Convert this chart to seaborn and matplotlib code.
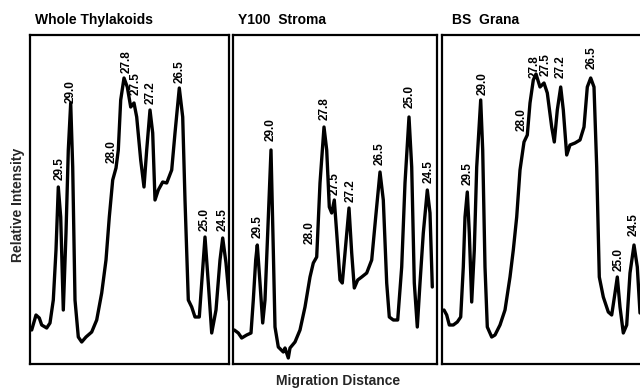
import matplotlib
matplotlib.use("Agg")
import matplotlib.pyplot as plt
import seaborn as sns
import pandas as pd

# ---- data (migration distance vs relative intensity) ----
panel_titles = ["Whole Thylakoids", "Y100  Stroma", "BS  Grana"]
peak_labels = ["29.5", "29.0", "28.0", "27.8", "27.5", "27.2", "26.5", "25.0", "24.5"]

whole_x = [1.7, 6, 9.3, 11.7, 16.7, 20, 23.3, 26, 28.3, 30.7, 33.3, 36, 38.3, 40.7, 42.7, 45,
           48.3, 51.7, 56, 61.7, 66.7, 71.7, 76, 79.3, 82.7, 86, 88.3, 90.7, 94, 97.3, 100.7,
           104, 106.7, 110.7, 114, 116.7, 120, 122.7, 125, 128.3, 132.7, 136.7, 141.7, 145,
           149.3, 152.7, 155, 158.3, 161.7, 165, 169.3, 171.7, 175, 178.3, 181.7, 186, 190,
           192.7, 196, 199.3]
whole_y = [34, 49, 46, 39, 36, 41, 64, 114, 177, 147, 54, 131, 214, 261, 197, 64,
           27, 22, 27, 32, 44, 71, 104, 147, 184, 196, 214, 264, 286, 277, 257,
           261, 247, 204, 177, 214, 254, 231, 164, 174, 182, 181, 194, 231,
           276, 247, 164, 64, 57, 47, 47, 81, 127, 81, 31, 54, 104,
           126, 101, 64]

stroma_x = [1.3, 5.3, 8.7, 13.7, 18, 20.3, 22.7, 24.3, 27, 29.7, 32, 34.7, 38, 40.3, 42, 45.3,
            50.3, 52, 55.3, 57, 62, 67, 72, 77, 80.3, 83.7, 87, 91, 93.7, 96.3, 98.7, 101.3,
            103.7, 107, 109.3, 112, 116, 118.7, 121.3, 124.7, 128.7, 133.7, 138.7, 142.7, 147,
            150.3, 153.7, 156.3, 160.3, 164.7, 168.7, 172, 176, 178.7, 181.3, 184.3, 187,
            190.3, 194.3, 197, 199.3]
stroma_y = [34, 31, 26, 29, 31, 64, 104, 119, 81, 41, 64, 131, 214, 114, 37, 17,
            12, 16, 6, 16, 22, 34, 57, 87, 101, 107, 181, 237, 214, 157, 151, 164,
            131, 84, 81, 111, 156, 111, 76, 84, 87, 91, 104, 147, 192,
            164, 81, 47, 44, 44, 97, 181, 247, 197, 81, 37, 81,
            131, 174, 151, 77]

grana_x = [2, 4.7, 7.3, 11.3, 15.3, 18.7, 21.3, 23, 25.3, 27.3, 29.7, 32.3, 34.7, 38.7, 40.7,
           43, 45.3, 49.7, 53, 58, 63, 68, 71.3, 74.7, 78, 82, 85.3, 88, 91.3, 94, 98, 102,
           105.3, 109.7, 112.3, 115.3, 118.7, 121.3, 124.7, 128, 133, 138, 142, 145.3, 148.7,
           152, 154.7, 157.3, 161.3, 166.3, 169.7, 173, 175.3, 178, 181.3, 184.7, 188, 192,
           195.3, 198]
grana_y = [54, 49, 39, 39, 42, 47, 97, 147, 172, 131, 62, 114, 197, 264, 214,
           97, 37, 27, 29, 39, 54, 87, 114, 147, 194, 222, 229, 261, 284, 290, 277, 281,
           271, 237, 222, 254, 277, 254, 209, 219, 221, 224, 237, 277, 286,
           277, 197, 87, 67, 52, 49, 71, 87, 57, 31, 39, 91, 119,
           97, 51]

# peak label anchor positions (distance, intensity at label base)
whole_lab_x = [30, 41, 81.7, 96.7, 106, 120.7, 150, 175, 192.7]
whole_lab_y = [182, 259, 199, 289, 267, 258, 279, 131, 131]
stroma_lab_x = [24.3, 38, 77, 91.3, 102, 118, 147, 177, 196]
stroma_lab_y = [124, 221, 118, 242, 167, 160, 197, 254, 179]
grana_lab_x = [25.3, 40.7, 79.7, 93, 104, 118.7, 149.7, 176.3, 192]
grana_lab_y = [177, 267, 231, 284, 286, 284, 293, 91, 126]

# ---- figure ----
sns.set_style("white")
plt.rcParams["font.family"] = ["Liberation Sans", "DejaVu Sans"]

W, H = 640, 390
fig = plt.figure(figsize=(6.4, 3.9), dpi=100)

# panel frames in pixels: (left, right)
frames = [(30, 229), (233, 437), (442, 650)]
top_px, bot_px = 35, 364

traces = [(whole_x, whole_y, whole_lab_x, whole_lab_y),
          (stroma_x, stroma_y, stroma_lab_x, stroma_lab_y),
          (grana_x, grana_y, grana_lab_x, grana_lab_y)]
title_left = [35, 238, 452]

for i, ((l, r), (tx, ty, lx, ly)) in enumerate(zip(frames, traces)):
    ax = fig.add_axes([l / W, 1 - bot_px / H, (r - l) / W, (bot_px - top_px) / H])
    df = pd.DataFrame({"dist": tx, "inten": ty})
    sns.lineplot(data=df, x="dist", y="inten", ax=ax, color="black", lw=2.4,
                 sort=False, estimator=None, legend=False)
    for ln in ax.lines:
        ln.set_solid_joinstyle("round")
        ln.set_solid_capstyle("round")
    ax.set_xlim(0, r - l)
    ax.set_ylim(0, bot_px - top_px)
    ax.set_xticks([])
    ax.set_yticks([])
    ax.set_xlabel("")
    ax.set_ylabel("")
    for s in ax.spines.values():
        s.set_visible(True)
        s.set_color("black")
        s.set_linewidth(1.6)
    for lab, x, y in zip(peak_labels, lx, ly):
        ax.text(x, y + 2, lab, rotation=90, ha="center", va="bottom",
                fontsize=8.5, fontweight="bold", color="black")
    fig.text(title_left[i] / W, 1 - 20 / H, panel_titles[i], ha="left", va="center",
             fontsize=10, fontweight="bold", color="black")

fig.text(18 / W, 1 - 205 / H, "Relative Intensity", rotation=90, ha="center",
         va="center", fontsize=10, fontweight="bold")
fig.text(338 / W, 1 - 381 / H, "Migration Distance", ha="center", va="center",
         fontsize=10, fontweight="bold")

fig.savefig("out.png", dpi=100)
